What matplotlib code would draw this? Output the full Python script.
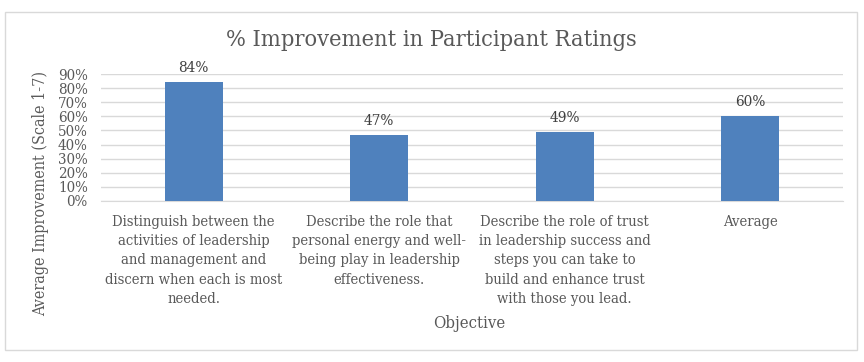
import numpy as np
import matplotlib
matplotlib.use('Agg')
import matplotlib.pyplot as plt

categories = ['Distinguish between the\nactivities of leadership\nand management and\ndiscern when each is most\nneeded.',
              'Describe the role that\npersonal energy and well-\nbeing play in leadership\neffectiveness.',
              'Describe the role of trust\nin leadership success and\nsteps you can take to\nbuild and enhance trust\nwith those you lead.',
              'Average']
values = [84, 47, 49, 60]
yticks = [0, 10, 20, 30, 40, 50, 60, 70, 80, 90]

plt.rcParams['font.family'] = ['DejaVu Serif']
plt.rcParams['font.stretch'] = 'condensed'
txt = '#595959'

fig = plt.figure(figsize=(8.64, 3.62), dpi=100)
fig.patches.append(plt.Rectangle((5/864, 12/362), 852/864, 338/362, transform=fig.transFigure,
                                 fill=False, edgecolor='#D9D9D9', linewidth=1))
ax = fig.add_axes([101/864, 1 - 201/362, 742/864, 127/362])

x = np.arange(len(values))
ax.bar(x, values, width=0.31, color='#4F81BD', zorder=3)
for xi, v in zip(x, values):
    ax.text(xi, v + 5, '%d%%' % v, ha='center', va='bottom', fontsize=11, color='#404040')

ax.set_xlim(-0.5, len(values) - 0.5)
ax.set_ylim(0, 90)
ax.set_yticks(yticks)
ax.set_yticklabels(['%d%%' % t for t in yticks], fontsize=10.8, color=txt)
ax.yaxis.grid(True, color='#D9D9D9', linewidth=1, zorder=0)
ax.tick_params(axis='y', length=0, pad=9.5)
ax.set_xticks(x)
ax.set_xticklabels(categories, fontsize=10.6, color=txt, linespacing=1.48)
ax.tick_params(axis='x', length=0, pad=10)
for s in ['top', 'right', 'left']:
    ax.spines[s].set_visible(False)
ax.spines['bottom'].set_color('#D9D9D9')

fig.text(431/864, 1 - 40/362, '% Improvement in Participant Ratings', ha='center', va='center',
         fontsize=16.8, color=txt)
fig.text(469/864, 1 - 323/362, 'Objective', ha='center', va='center', fontsize=12, color=txt)
fig.text(41/864, 1 - 194/362, 'Average Improvement (Scale 1-7)', rotation=90, ha='center', va='center',
         fontsize=11.5, color=txt)

plt.savefig('out.png', dpi=100)
